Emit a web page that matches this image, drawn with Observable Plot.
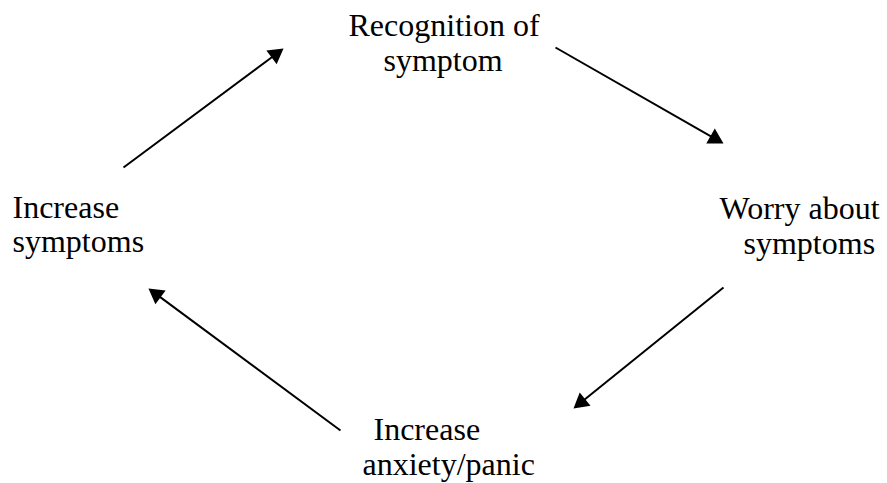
<!DOCTYPE html>
<html>
<head>
<meta charset="utf-8">
<script src="https://cdn.jsdelivr.net/npm/d3@7"></script>
<script src="https://cdn.jsdelivr.net/npm/@observablehq/plot@0.6"></script>
<style>
  html, body { margin: 0; padding: 0; background: #fff; }
</style>
</head>
<body>
<div id="chart"></div>
<script>
// Text lines of the cycle diagram
const labelText = ["Recognition of", "symptom", "Worry about", "symptoms", "Increase", "anxiety/panic", "Increase", "symptoms"];
const labelX = [348, 383, 719, 743, 373, 362, 12, 12];
const labelY = [35, 70, 218, 253, 439, 474, 217, 251];

// Arrows (start -> tip)
const arrowX1 = [555, 723, 340, 123];
const arrowY1 = [47, 287, 430, 167];
const arrowX2 = [723, 573, 148, 283];
const arrowY2 = [143, 408, 288, 48];

const labels = labelText.map((t, i) => ({text: t, x: labelX[i], y: labelY[i]}));

const headR = 6.4;                       // dot radius for triangle head
const tipOffset = 2 * Math.sqrt((Math.PI * headR * headR) / (Math.sqrt(3) * 3));
const arrows = arrowX1.map((x1, i) => {
  const x2 = arrowX2[i], y1 = arrowY1[i], y2 = arrowY2[i];
  const dx = x2 - x1, dy = y2 - y1, len = Math.hypot(dx, dy);
  const ux = dx / len, uy = dy / len;
  return {
    x1, y1, x2, y2,
    cx: x2 - ux * tipOffset, cy: y2 - uy * tipOffset,
    angle: Math.atan2(dx, -dy) * 180 / Math.PI
  };
});

const chart = Plot.plot({
  width: 887,
  height: 483,
  margin: 0,
  x: {domain: [0, 887], axis: null},
  y: {domain: [0, 483], axis: null, reverse: true},
  style: {background: "#fff"},
  marks: [
    Plot.link(arrows, {x1: "x1", y1: "y1", x2: "cx", y2: "cy", stroke: "#000", strokeWidth: 2}),
    Plot.dot(arrows, {x: "cx", y: "cy", symbol: "triangle", r: headR, fill: "#000", stroke: "none", rotate: "angle"}),
    Plot.text(labels, {x: "x", y: "y", text: "text", textAnchor: "start", lineAnchor: "bottom",
      fontFamily: "Liberation Serif", fontSize: 32, fill: "#000"})
  ]
});
document.getElementById("chart").appendChild(chart);
</script>
</body>
</html>
